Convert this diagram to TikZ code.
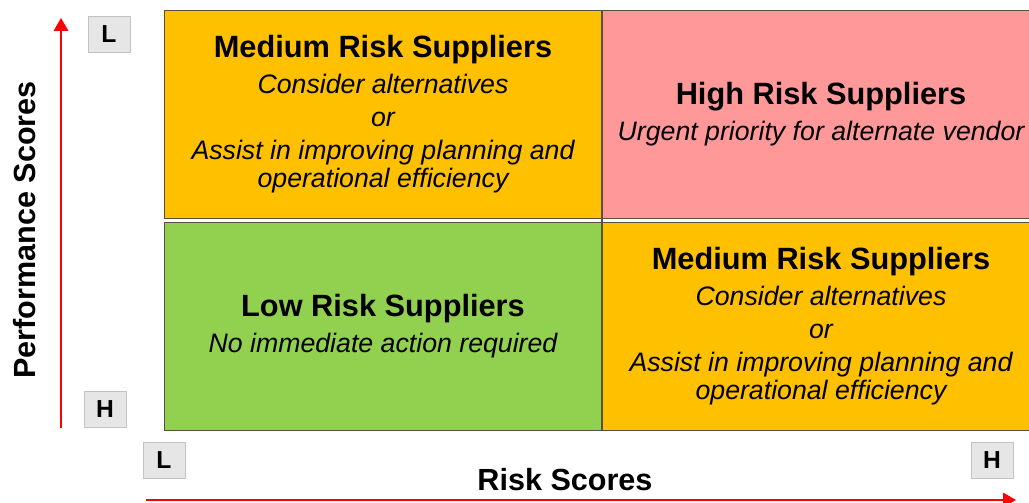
\documentclass[tikz,border=0pt]{standalone}
\usepackage{fontspec}
\setmainfont{Liberation Sans}
\usetikzlibrary{arrows}
\usetikzlibrary{positioning}

\definecolor{medrisk}{HTML}{FFC000}
\definecolor{highrisk}{HTML}{FF9999}
\definecolor{lowrisk}{HTML}{92D050}
\definecolor{tagfill}{HTML}{E7E6E6}
\definecolor{cellline}{HTML}{5A4E3C}

\tikzset{
  cell/.style={draw=cellline, line width=0.5pt, minimum width=8.76cm, minimum height=4.16cm,
               inner sep=0pt, align=center, font=\fontsize{15.2}{18.7}\selectfont},
  tag/.style={fill=tagfill, draw=tagfill!85!black, line width=0.3pt, minimum width=0.84cm,
              minimum height=0.72cm, inner sep=0pt, font=\fontsize{14}{14}\selectfont\bfseries},
  axis/.style={red, line width=1pt, -triangle 60},
  axislabel/.style={font=\fontsize{17.4}{18}\selectfont\bfseries},
}
\newcommand{\ttl}[1]{{\fontsize{17.5}{18.7}\selectfont\bfseries #1}}
\newcommand{\sub}[1]{{\itshape #1}}

\begin{document}
\begin{tikzpicture}[x=0.02cm, y=-0.02cm]
\useasboundingbox (0,0) rectangle (1029,503);
\clip (0,0) rectangle (1029,503);

% quadrants
\node[cell, fill=medrisk] (medtop) at (383,114)
  {\ttl{Medium Risk Suppliers}\\[2.3pt]
   \sub{Consider alternatives}\\ \sub{or}\\ \sub{Assist in improving planning and}\\[-2.8pt]
   \sub{operational efficiency}};
\node[cell, fill=highrisk] (high) at (821,114)
  {\ttl{High Risk Suppliers}\\[1.5pt]
   \sub{Urgent priority for alternate vendor}};
\node[cell, fill=lowrisk] (low) at (383,326)
  {\ttl{Low Risk Suppliers}\\[1.5pt]
   \sub{No immediate action required}};
\node[cell, fill=medrisk] (medbot) at (821,326)
  {\ttl{Medium Risk Suppliers}\\[2.3pt]
   \sub{Consider alternatives}\\ \sub{or}\\ \sub{Assist in improving planning and}\\[-2.8pt]
   \sub{operational efficiency}};
\draw[cellline, line width=1.2pt] (high.north west) -- (medbot.south west);

% axes
\coordinate (ybot) at (61,428);
\coordinate (ytop) at (61,18);
\coordinate (xleft) at (146,500);
\coordinate (xright) at (1016,500);
\draw[axis] (ybot) -- (ytop);
\draw[axis] (xleft) -- (xright);
\node[axislabel, rotate=90] (perf) at (25,230) {Performance Scores};
\node[axislabel] (risk) at (565,480) {Risk Scores};

% L / H tags
\node[tag] (ylow) at (109,34) {L};
\node[tag] (yhigh) at (105,409) {H};
\node[tag] (xlow) at (164,460) {L};
\node[tag] (xhigh) at (992,460) {H};
\end{tikzpicture}
\end{document}
